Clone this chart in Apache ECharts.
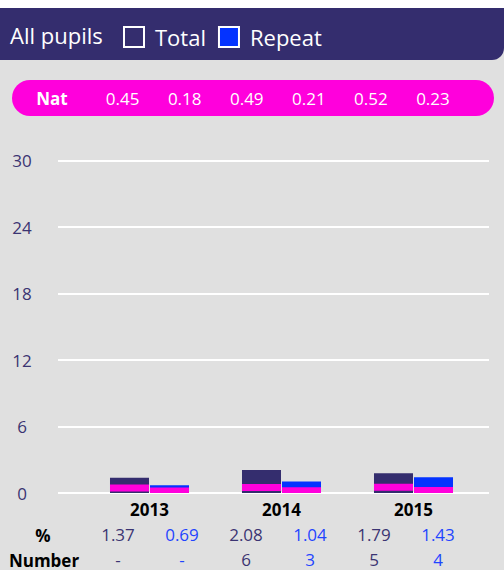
<!DOCTYPE html>
<html lang="en">
<head>
  <meta charset="UTF-8">
  <title>All pupils - Total / Repeat</title>
  <script src="https://cdn.jsdelivr.net/npm/echarts@6/dist/echarts.min.js"></script>
  <style>
    html, body { margin: 0; padding: 0; background: #fff; }
    #chart { width: 504px; height: 570px; }
  </style>
</head>
<body>
  <div id="chart"></div>
  <script>
    // values
    const years = ['2013', '2014', '2015'];
    const totalPct = [1.37, 2.08, 1.79];
    const repeatPct = [0.69, 1.04, 1.43];
    const totalNat = [0.45, 0.49, 0.52];
    const repeatNat = [0.18, 0.21, 0.23];
    const totalNum = ['-', '6', '5'];
    const repeatNum = ['-', '3', '4'];
    const yMax = 30, yStep = 6;

    // colours / sizes
    const C_HEAD = '#342d6e', C_TOTAL = '#342d6e', C_REPEAT = '#0433ff', C_NAT = '#ff00dc';
    const C_TXT_T = '#3b3472', C_TXT_R = '#1f45ff';
    const BAR_W = 39, BAR_GAP = 1, NAT_H = 7;
    const FONT = "'Open Sans', sans-serif";

    // table rows: total / repeat pairs per year
    const pairs = (a, b) => years.flatMap((_, i) => [a[i], b[i]]);
    const natRow = pairs(totalNat, repeatNat).map(v => v.toFixed(2));
    const pctRow = pairs(totalPct, repeatPct).map(v => v.toFixed(2));
    const numRow = pairs(totalNum, repeatNum);
    const cols = natRow.map((_, i) => String(i));

    const rowLabel = (row, plain) => ({
      interval: 0,
      fontSize: 17,
      formatter: (v, i) => plain ? row[i] : (i % 2 ? '{r|' : '{t|') + row[i] + '}',
      color: '#fff',
      rich: {
        t: { color: C_TXT_T, fontSize: 17, fontFamily: FONT },
        r: { color: C_TXT_R, fontSize: 17, fontFamily: FONT }
      }
    });

    // magenta national marker drawn on top of each bar
    function natMarker(side) {
      return function (params, api) {
        const x = api.value(0), v = api.value(1);
        const zero = api.coord([x, 0]);
        const p = api.coord([x, v]);
        const left = p[0] + (side < 0 ? -BAR_W - BAR_GAP / 2 : BAR_GAP / 2);
        const top = p[1] - NAT_H / 2;
        const bottom = Math.min(p[1] + NAT_H / 2, zero[1]);
        return { type: 'rect', shape: { x: left, y: top, width: BAR_W, height: bottom - top }, style: { fill: C_NAT } };
      };
    }

    const hidden = { show: false };
    const gridTop = 160.7, gridBottom = 77;

    const chart = echarts.init(document.getElementById('chart'), null, { renderer: 'svg' });
    chart.setOption({
      animation: false,
      backgroundColor: '#e0e0e0',
      textStyle: { fontFamily: FONT },
      title: {
        text: 'All pupils', left: 10, top: 24, padding: 0,
        textStyle: { color: '#fff', fontSize: 22, fontWeight: 'normal', fontFamily: FONT }
      },
      legend: {
        data: ['Total', 'Repeat'],
        left: 123, top: 26, padding: 0, itemGap: 12,
        itemWidth: 20, itemHeight: 20, icon: 'rect',
        itemStyle: { borderColor: '#fff', borderWidth: 2 },
        textStyle: { color: '#fff', fontSize: 22, fontFamily: FONT, padding: [0, 0, 0, 6] }
      },
      graphic: [
        { type: 'rect', z: -10, shape: { x: 0, y: 0, width: 504, height: 8 }, style: { fill: '#fff' } },
        { type: 'rect', z: -10, shape: { x: 0, y: 8, width: 504, height: 52, r: [0, 0, 12, 0] }, style: { fill: C_HEAD } },
        { type: 'rect', z: -10, shape: { x: 12, y: 80, width: 482, height: 36, r: 18 }, style: { fill: C_NAT } },
        { type: 'text', z: 10, x: 52, y: 98, style: { text: 'Nat', fill: '#fff', font: 'bold 17px ' + FONT, align: 'center', verticalAlign: 'middle' } },
        { type: 'text', z: 10, x: 43, y: 535, style: { text: '%', fill: '#000', font: 'bold 17px ' + FONT, align: 'center', verticalAlign: 'middle' } },
        { type: 'text', z: 10, x: 44, y: 560, style: { text: 'Number', fill: '#000', font: 'bold 17px ' + FONT, align: 'center', verticalAlign: 'middle' } }
      ],
      grid: [
        { left: 58, right: 15, top: gridTop, bottom: gridBottom },      // gridlines + y labels
        { left: 83.5, right: 24.5, top: gridTop, bottom: gridBottom },  // bars
        { left: 86, right: 34, top: gridTop, bottom: gridBottom },      // % / Number rows
        { left: 91.6, right: 40, top: gridTop, bottom: gridBottom }     // Nat row
      ],
      xAxis: [
        { gridIndex: 0, type: 'value', show: false },
        {
          gridIndex: 1, type: 'category', data: years,
          axisLine: hidden, axisTick: hidden,
          axisLabel: { color: '#000', fontWeight: 'bold', fontSize: 17, margin: 8, interval: 0 }
        },
        { gridIndex: 2, type: 'category', data: cols, position: 'bottom', axisLine: hidden, axisTick: hidden, axisLabel: Object.assign(rowLabel(pctRow), { margin: 33 }) },
        { gridIndex: 2, type: 'category', data: cols, position: 'bottom', axisLine: hidden, axisTick: hidden, axisLabel: Object.assign(rowLabel(numRow), { margin: 57.5 }) },
        { gridIndex: 3, type: 'category', data: cols, position: 'top', axisLine: hidden, axisTick: hidden, axisLabel: Object.assign(rowLabel(natRow, true), { margin: 54 }) }
      ],
      yAxis: [
        {
          gridIndex: 0, type: 'value', min: 0, max: yMax, interval: yStep,
          axisLine: hidden, axisTick: hidden,
          axisLabel: { color: C_TXT_T, fontSize: 17, align: 'center', margin: 36 },
          splitLine: { lineStyle: { color: '#fff', width: 2 } }
        },
        { gridIndex: 1, type: 'value', min: 0, max: yMax, show: false, splitLine: hidden },
        { gridIndex: 2, type: 'value', show: false, splitLine: hidden },
        { gridIndex: 3, type: 'value', show: false, splitLine: hidden }
      ],
      series: [
        { name: 'Total', type: 'bar', xAxisIndex: 1, yAxisIndex: 1, data: totalPct, barWidth: BAR_W, barGap: '2.6%', itemStyle: { color: C_TOTAL }, z: 2 },
        { name: 'Repeat', type: 'bar', xAxisIndex: 1, yAxisIndex: 1, data: repeatPct, barWidth: BAR_W, barGap: '2.6%', itemStyle: { color: C_REPEAT }, z: 2 },
        { name: 'Total Nat', type: 'custom', xAxisIndex: 1, yAxisIndex: 1, data: totalNat.map((v, i) => [i, v]), renderItem: natMarker(-1), z: 3 },
        { name: 'Repeat Nat', type: 'custom', xAxisIndex: 1, yAxisIndex: 1, data: repeatNat.map((v, i) => [i, v]), renderItem: natMarker(1), z: 3 }
      ]
    });
  </script>
</body>
</html>
